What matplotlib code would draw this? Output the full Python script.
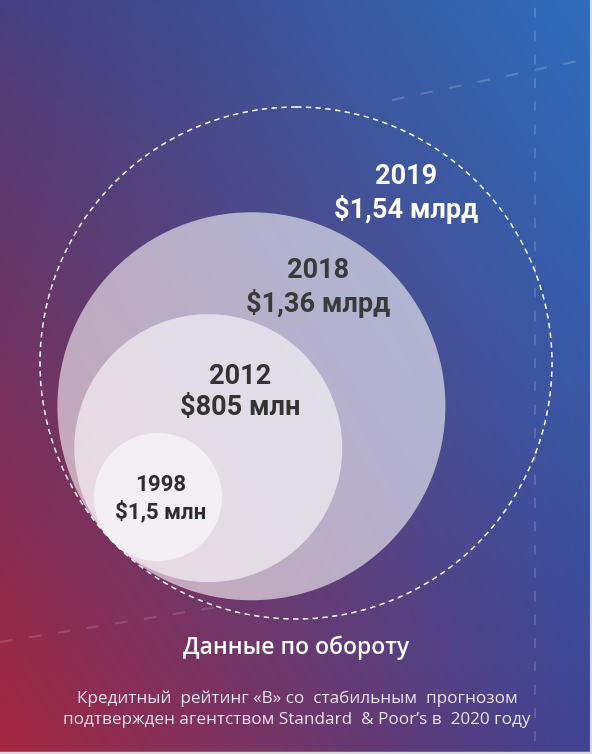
import numpy as np
import matplotlib
matplotlib.use("Agg")
import matplotlib.pyplot as plt
from matplotlib.patches import Circle

# ---- data ----
years = ["1998", "2012", "2018", "2019"]
value_labels = ["$1,5 млн", "$805 млн", "$1,36 млрд", "$1,54 млрд"]
turnover_musd = [1.5, 805, 1360, 1540]
title = "Данные по обороту"
subtitle = ["Кредитный  рейтинг «B» со  стабильным  прогнозом",
            "подтвержден агентством Standard  & Poor’s в  2020 году"]

# ---- layout / style ----
W, H = 592, 754
radii = [64, 134, 194, 256]
outer_center = (296, 363)
tangent_dir = np.array([-0.719, 0.698])
label_pos = [(161, 485, 512), (240, 376, 408), (318, 271, 303), (406, 176, 209)]
label_sizes = [16, 19.5, 19.5, 19.5]
label_colors = ["#2e2e2e", "#333333", "#3a3a3a", "white"]

fig = plt.figure(figsize=(W / 100, H / 100), dpi=100)
ax = fig.add_axes([0, 0, 1, 1])
ax.set_xlim(0, W)
ax.set_ylim(H, 0)
ax.axis("off")

# background gradient
TL = np.array([70, 62, 126]) / 255
TR = np.array([46, 110, 188]) / 255
BL = np.array([165, 38, 62]) / 255
BR = np.array([62, 68, 148]) / 255
u = np.linspace(0, 1, W)[None, :, None]
v = np.linspace(0, 1, H)[:, None, None]
top = TL * (1 - u) + TR * u
bot = BL * (1 - u) + BR * u
img = top * (1 - v) + bot * v
ax.imshow(np.clip(img, 0, 1), extent=[0, W, H, 0], aspect="auto", zorder=0)

# faint decorative dashed guide lines
ax.plot([535, 535], [8, 754], color="white", alpha=0.18, lw=1.2,
        ls=(0, (6, 8)), zorder=1)
ax.plot([392, 592], [100, 58], color="white", alpha=0.18, lw=1.5,
        ls=(0, (6, 8)), zorder=1)
ax.plot([0, 230], [642, 605], color="white", alpha=0.15, lw=1.5,
        ls=(0, (6, 8)), zorder=1)

# circles
for i, r in enumerate(radii):
    c = np.array(outer_center) + (radii[-1] - r) * tangent_dir
    if i == len(radii) - 1:
        ax.add_patch(Circle(c, r, fill=False, ec="white", lw=1.1,
                            ls=(0, (3.6, 2.8)), zorder=2))
    else:
        ax.add_patch(Circle(c, r, fc="white", ec="none",
                            alpha=0.58, zorder=3 + i))

for i, (yr, val) in enumerate(zip(years, value_labels)):
    x, y1, y2 = label_pos[i]
    for txt, yy in ((yr, y1), (val, y2)):
        ax.text(x, yy, txt, ha="center", va="center", family="Roboto",
                weight="bold", fontsize=label_sizes[i], color=label_colors[i],
                zorder=10)

ax.text(296, 648, title, ha="center", va="center", family="Open Sans",
        weight="semibold", fontsize=16.5, color="white", zorder=10)
for k, line in enumerate(subtitle):
    ax.text(297, 699 + 21 * k, line, ha="center", va="center",
            family="Open Sans", fontsize=12.3, color="#ece4f0", zorder=10)

# thin light border at right and bottom
ax.plot([590.5, 590.5], [0, H], color="#d8d8dc", lw=1.5, zorder=11)
ax.plot([0, W], [752.5, 752.5], color="#d8d8dc", lw=2.5, zorder=11)

fig.savefig("out.png", dpi=100)
